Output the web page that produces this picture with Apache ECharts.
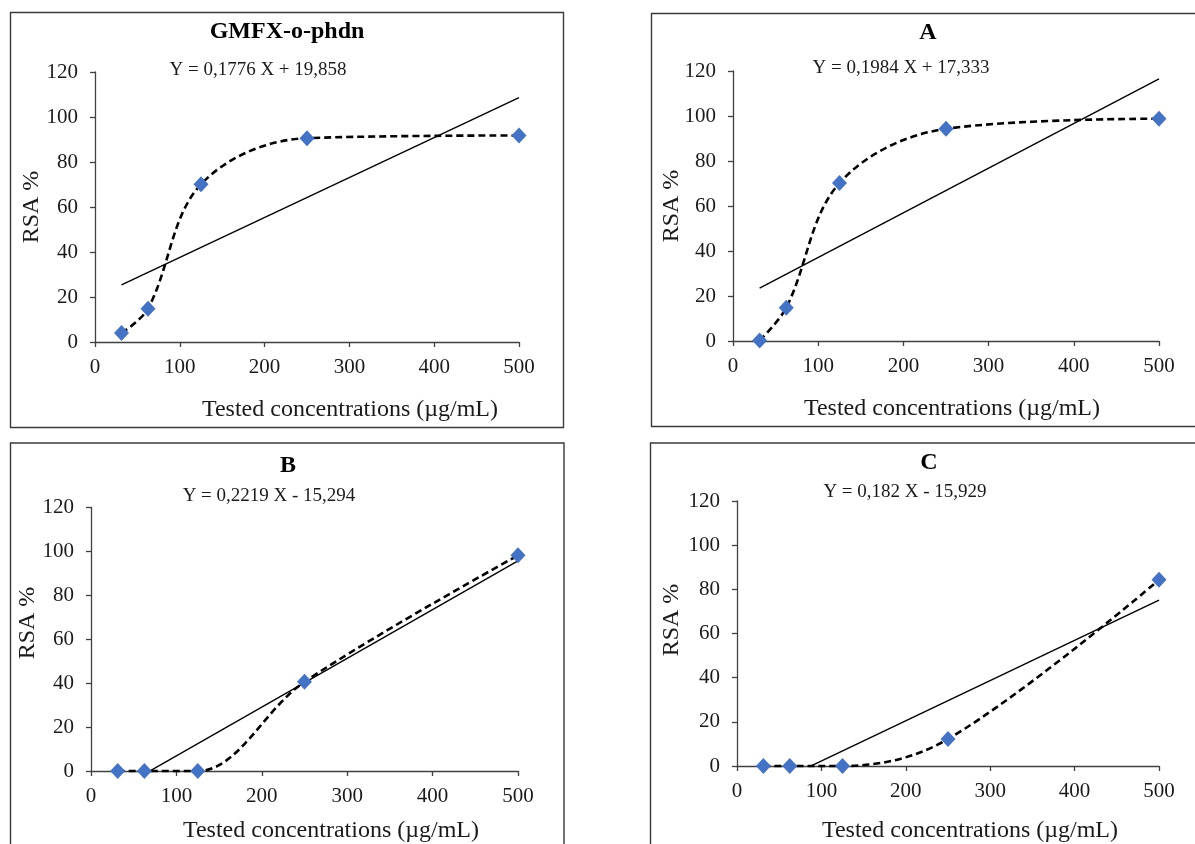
<!DOCTYPE html>
<html>
<head>
<meta charset="utf-8">
<script src="https://cdn.jsdelivr.net/npm/echarts@6/dist/echarts.min.js"></script>
<style>
  html, body { margin: 0; padding: 0; background: #fff; }
  #chart { width: 1195px; height: 844px; }
</style>
</head>
<body>
<div id="chart"></div>
<script>
// Tested concentrations (µg/mL)
const concentrations = [31.25, 62.5, 125, 250, 500];

// RSA % per sample
const rsaGMFX = [4.0, 14.8, 70.1, 90.6, 91.8];
const rsaA = [0.2, 14.8, 70.2, 94.3, 98.8];
const rsaB = [0, 0, 0, 40.6, 98.2];
const rsaC = [0, 0, 0, 12.2, 84.3];

// Linear fits: [slope, intercept]
const fitGMFX = [0.1776, 19.858];
const fitA = [0.1984, 17.333];
const fitB = [0.2219, -15.294];
const fitC = [0.182, -15.929];

const panelTitles = ['GMFX-o-phdn', 'A', 'B', 'C'];
const equationLabels = [
  'Y = 0,1776 X + 19,858',
  'Y = 0,1984 X + 17,333',
  'Y = 0,2219 X - 15,294',
  'Y = 0,182 X - 15,929'
];
const xTicks = [0, 100, 200, 300, 400, 500];
const yTicks = [0, 20, 40, 60, 80, 100, 120];

const FONT = '"Liberation Serif", "DejaVu Serif", serif';
const INK = '#1a1a1a';
const MARK = '#4472C4';

const panels = [
  { values: rsaGMFX, fit: fitGMFX,
    grid: { left: 95, top: 72, width: 424, height: 270 },
    frame: { x: 10.5, y: 12.5, width: 553, height: 415 },
    title: [287, 32], eq: [258, 70], xName: [350, 410], yName: [32, 207] },
  { values: rsaA, fit: fitA,
    grid: { left: 733, top: 71, width: 426, height: 270 },
    frame: { x: 651.5, y: 13.5, width: 560, height: 413 },
    title: [928, 33], eq: [901, 68], xName: [952, 409], yName: [672, 206] },
  { values: rsaB, fit: fitB,
    grid: { left: 91, top: 507.5, width: 427, height: 263.5 },
    frame: { x: 10.5, y: 443, width: 553.5, height: 420 },
    title: [288, 466], eq: [269, 496], xName: [331, 831], yName: [28, 623] },
  { values: rsaC, fit: fitC,
    grid: { left: 737, top: 501, width: 422, height: 265 },
    frame: { x: 650.5, y: 443, width: 560, height: 420 },
    title: [929, 463], eq: [905, 492], xName: [970, 831], yName: [672, 620] }
];

const grids = [], xAxes = [], yAxes = [], series = [], graphics = [];

panels.forEach((p, i) => {
  grids.push(Object.assign({ containLabel: false }, p.grid));

  xAxes.push({
    type: 'value', gridIndex: i, min: 0, max: 500, interval: 100,
    axisLine: { lineStyle: { color: '#404040', width: 1.3 } },
    axisTick: { show: true, length: 5, lineStyle: { color: '#404040', width: 1.3 } },
    axisLabel: { color: INK, fontFamily: FONT, fontSize: 21, margin: 15,
      formatter: v => xTicks.includes(v) ? String(v) : '' },
    splitLine: { show: false }
  });
  yAxes.push({
    type: 'value', gridIndex: i, min: 0, max: 120, interval: 20,
    axisLine: { show: true, lineStyle: { color: '#404040', width: 1.3 } },
    axisTick: { show: true, length: 5, lineStyle: { color: '#404040', width: 1.3 } },
    axisLabel: { color: INK, fontFamily: FONT, fontSize: 21, margin: 17,
      formatter: v => yTicks.includes(v) ? String(v) : '' },
    splitLine: { show: false }
  });

  // linear trend line across the tested range
  const x0 = concentrations[0];
  const x1 = concentrations[concentrations.length - 1];
  series.push({
    type: 'line', xAxisIndex: i, yAxisIndex: i,
    data: [[x0, p.fit[0] * x0 + p.fit[1]], [x1, p.fit[0] * x1 + p.fit[1]]],
    symbol: 'none', clip: true, silent: true,
    lineStyle: { color: '#000', width: 1.4 }, z: 2
  });

  // smoothed dashed curve through the measurements
  series.push({
    type: 'line', xAxisIndex: i, yAxisIndex: i,
    data: concentrations.map((c, k) => [c, p.values[k]]),
    smooth: 0.35, symbol: 'none', clip: false, silent: true,
    lineStyle: { color: '#000', width: 2.6, type: [7, 4] }, z: 3
  });

  // measured points
  series.push({
    type: 'scatter', xAxisIndex: i, yAxisIndex: i,
    data: concentrations.map((c, k) => [c, p.values[k]]),
    symbol: 'diamond', symbolSize: [15, 16], clip: false,
    itemStyle: { color: MARK, opacity: 1 }, z: 4
  });

  graphics.push({
    type: 'rect', shape: p.frame, silent: true,
    style: { fill: 'none', stroke: '#3a3a3a', lineWidth: 1.4 }
  });
  graphics.push({
    type: 'text', x: p.title[0], y: p.title[1], silent: true,
    style: { text: panelTitles[i], font: 'bold 24px ' + FONT, fill: '#000',
      textAlign: 'center', textVerticalAlign: 'middle' }
  });
  graphics.push({
    type: 'text', x: p.eq[0], y: p.eq[1], silent: true,
    style: { text: equationLabels[i], font: '19px ' + FONT, fill: INK,
      textAlign: 'center', textVerticalAlign: 'middle' }
  });
  graphics.push({
    type: 'text', x: p.xName[0], y: p.xName[1], silent: true,
    style: { text: 'Tested concentrations (µg/mL)', font: '24px ' + FONT, fill: INK,
      textAlign: 'center', textVerticalAlign: 'middle' }
  });
  graphics.push({
    type: 'text', x: p.yName[0], y: p.yName[1], rotation: Math.PI / 2, silent: true,
    style: { text: 'RSA %', font: '24px ' + FONT, fill: INK,
      textAlign: 'center', textVerticalAlign: 'middle' }
  });
});

const chart = echarts.init(document.getElementById('chart'), null, { renderer: 'canvas' });
chart.setOption({
  animation: false,
  backgroundColor: '#fff',
  grid: grids,
  xAxis: xAxes,
  yAxis: yAxes,
  series: series,
  graphic: graphics
});
</script>
</body>
</html>
